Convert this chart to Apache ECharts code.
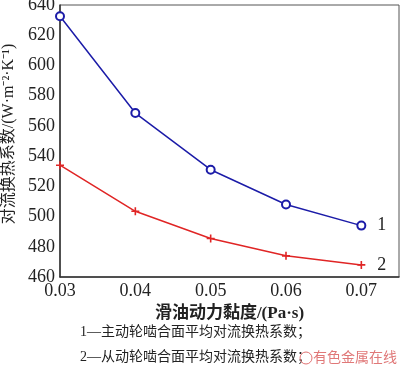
<!DOCTYPE html>
<html><head><meta charset="utf-8">
<script src="https://cdn.jsdelivr.net/npm/echarts@6/dist/echarts.min.js"></script>
<style>html,body{margin:0;padding:0;background:#fff}#c{width:400px;height:367px}</style>
</head><body><div id="c"></div>
<script>
const viscosity = [0.03, 0.04, 0.05, 0.06, 0.07];
const series1 = [632.5, 568.5, 531, 508, 494];
const series2 = [534, 503.5, 485.5, 474, 468];
const seriesNames = ['1', '2'];
const xTicks = [0.03, 0.04, 0.05, 0.06, 0.07];
const yTicks = [460, 480, 500, 520, 540, 560, 580, 600, 620, 640];
const xTitle = '滑油动力黏度/(Pa·s)';
const yTitle = '对流换热系数/(W·m⁻²·K⁻¹)';
const notes = ['1—主动轮啮合面平均对流换热系数；', '2—从动轮啮合面平均对流换热系数；'];
const watermark = '有色金属在线';

const serif = '"Liberation Serif","Noto Sans CJK SC",serif';
const chart = echarts.init(document.getElementById('c'), null, {renderer: 'canvas'});
const mk = (vals) => viscosity.map((x, i) => [x, vals[i]]);
chart.setOption({
  animation: false,
  grid: {left: 60, right: 1, top: 5, bottom: 90, show: true, borderColor: '#555', borderWidth: 1,
         containLabel: false, outerBoundsMode: 'none'},
  xAxis: {
    type: 'value', min: 0.03, max: 0.075, interval: 0.01,
    axisLine: {lineStyle: {color: '#333', width: 1.5}},
    axisTick: {show: false}, splitLine: {show: false},
    axisLabel: {color: '#222', fontFamily: serif, fontSize: 18, margin: 5,
      formatter: v => xTicks.some(t => Math.abs(t - v) < 1e-9) ? v.toFixed(2) : ''},
    name: xTitle, nameLocation: 'middle', nameGap: 27,
    nameTextStyle: {color: '#222', fontFamily: serif, fontSize: 17, fontWeight: 'bold'}
  },
  yAxis: {
    type: 'value', min: 460, max: 640, interval: 20,
    axisLine: {show: true, lineStyle: {color: '#333', width: 1.5}},
    axisTick: {show: false}, splitLine: {show: false},
    axisLabel: {color: '#222', fontFamily: serif, fontSize: 18, margin: 5,
      formatter: v => yTicks.includes(v) ? String(v) : ''},
    name: yTitle, nameLocation: 'middle', nameGap: 41, nameRotate: 90,
    nameTextStyle: {color: '#222', fontFamily: serif, fontSize: 16, padding: [0, 0, 0, 14]}
  },
  series: [
    {name: seriesNames[0], type: 'line', data: mk(series1), color: '#1c1ca8',
     lineStyle: {width: 1.5}, symbol: 'emptyCircle', symbolSize: 8, itemStyle: {borderWidth: 1.3},
     endLabel: {show: true, formatter: seriesNames[0], color: '#222', fontFamily: serif, fontSize: 18, offset: [8, 0]}},
    {name: seriesNames[1], type: 'line', data: mk(series2), color: '#e02525',
     lineStyle: {width: 1.5}, symbol: 'path://M4,0h2v4h4v2h-4v4h-2v-4h-4v-2h4z', symbolSize: 8,
     endLabel: {show: true, formatter: seriesNames[1], color: '#222', fontFamily: serif, fontSize: 18, offset: [8, 0]}}
  ],
  graphic: [
    {type: 'text', left: 80, top: 325, style: {text: notes[0], fontFamily: serif, fontSize: 14, fill: '#222'}},
    {type: 'text', left: 80, top: 350, style: {text: notes[1], fontFamily: serif, fontSize: 14, fill: '#222'}},
    {type: 'circle', shape: {cx: 306, cy: 358, r: 6}, style: {fill: 'none', stroke: '#e07070', lineWidth: 1}},
    {type: 'text', left: 313, top: 350, style: {text: watermark, fontFamily: '"Noto Sans CJK SC",sans-serif', fontSize: 14, fill: '#e07878'}}
  ]
});
</script></body></html>
